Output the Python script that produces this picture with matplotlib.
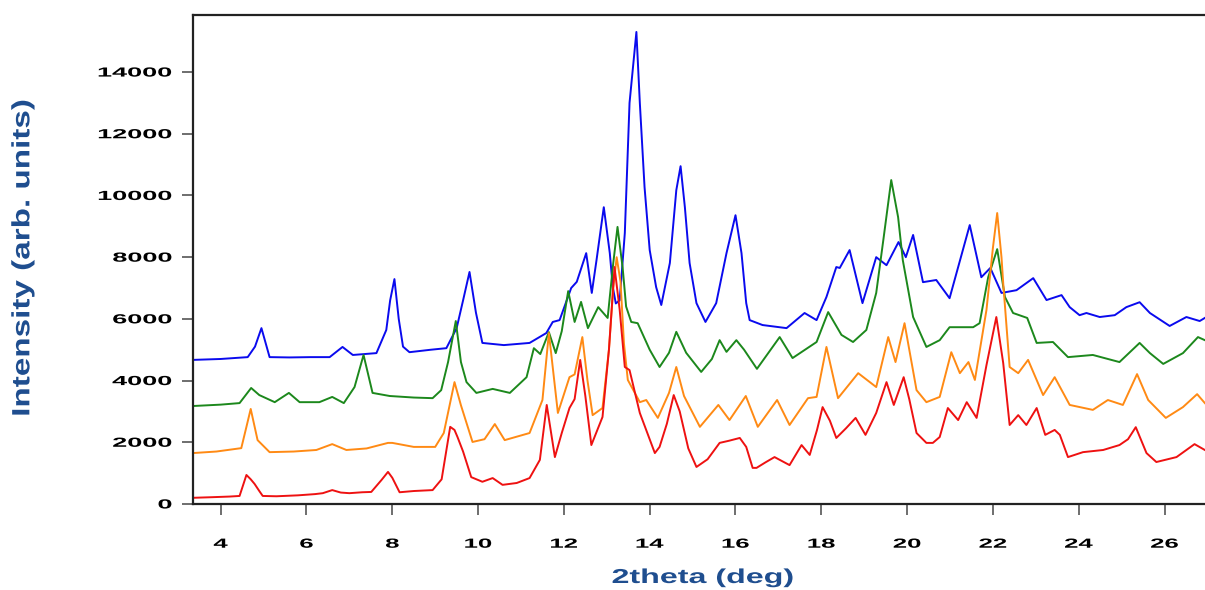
import numpy as np
import matplotlib as mpl
mpl.use('Agg')
import matplotlib.pyplot as plt
from matplotlib.patheffects import AbstractPathEffect
from matplotlib.transforms import Affine2D

mpl.rcParams['font.family'] = ['Liberation Sans', 'DejaVu Sans']
mpl.rcParams['font.weight'] = 'bold'

# powder patterns (2theta in deg, intensity in arb. units)
red_x = [3.35, 3.8, 4.2, 4.44, 4.6, 4.7, 4.79, 4.9, 4.98, 5.3, 5.8, 6.2, 6.38, 6.6, 6.8, 7.0,
         7.3, 7.51, 7.75, 7.9, 8.0, 8.17, 8.5, 8.94, 9.15, 9.35, 9.45, 9.52, 9.65, 9.84, 10.1,
         10.34, 10.57, 10.9, 11.2, 11.44, 11.6, 11.79, 11.95, 12.13, 12.25, 12.38, 12.5, 12.64,
         12.9, 13.05, 13.18, 13.3, 13.42, 13.53, 13.77, 14.12, 14.23, 14.4, 14.56, 14.7, 14.9,
         15.09, 15.35, 15.63, 15.85, 16.1, 16.25, 16.4, 16.49, 16.7, 16.91, 17.26, 17.54, 17.73,
         17.9, 18.03, 18.2, 18.35, 18.58, 18.8, 19.03, 19.28, 19.52, 19.69, 19.92, 20.05, 20.22,
         20.45, 20.6, 20.76, 20.95, 21.19, 21.39, 21.62, 21.85, 22.08, 22.24, 22.39, 22.59, 22.78,
         23.02, 23.22, 23.44, 23.56, 23.75, 24.1, 24.57, 24.95, 25.15, 25.33, 25.58, 25.81, 26.28,
         26.7, 26.94]
red_y = [200, 220, 240, 260, 940, 800, 650, 420, 260, 250, 280, 320, 350, 450, 370, 350,
         380, 390, 780, 1040, 850, 380, 420, 450, 800, 2500, 2400, 2170, 1700, 870, 720,
         840, 620, 680, 840, 1430, 3210, 1520, 2300, 3110, 3400, 4670, 3500, 1910,
         2820, 5000, 7680, 6300, 4440, 4340, 2950, 1650, 1850, 2600, 3530, 3000, 1800,
         1200, 1450, 1980, 2050, 2140, 1850, 1170, 1170, 1350, 1520, 1260, 1910, 1590,
         2400, 3140, 2700, 2140, 2460, 2790, 2240, 2950, 3950, 3210, 4110, 3400, 2300,
         1980, 1980, 2170, 3110, 2720, 3300, 2790, 4500, 6060, 4570, 2560, 2880, 2560,
         3110, 2240, 2400, 2240, 1520, 1680, 1750, 1910, 2100, 2490, 1650, 1360, 1520,
         1940, 1750]

orange_x = [3.35, 3.9, 4.48, 4.6, 4.7, 4.86, 5.14, 5.7, 6.23, 6.6, 6.93, 7.4, 7.9, 8.0, 8.5,
            9.0, 9.2, 9.45, 9.6, 9.87, 10.15, 10.39, 10.62, 11.2, 11.5, 11.65, 11.86, 12.13,
            12.25, 12.43, 12.55, 12.67, 12.9, 13.05, 13.15, 13.23, 13.32, 13.4, 13.49, 13.77,
            13.92, 14.19, 14.45, 14.62, 14.8, 15.17, 15.6, 15.86, 16.24, 16.52, 16.97, 17.26,
            17.69, 17.89, 18.12, 18.39, 18.86, 19.28, 19.56, 19.73, 19.94, 20.22, 20.45, 20.76,
            21.03, 21.23, 21.43, 21.58, 21.85, 22.0, 22.1, 22.2, 22.24, 22.39, 22.59, 22.82,
            23.17, 23.44, 23.79, 24.33, 24.68, 25.03, 25.36, 25.62, 26.03, 26.43, 26.76, 26.94]
orange_y = [1650, 1700, 1810, 2500, 3080, 2070, 1680, 1700, 1750, 1940, 1750, 1800, 1980, 1980, 1850,
            1850, 2300, 3950, 3200, 2010, 2100, 2590, 2070, 2300, 3370, 5540, 2950, 4110,
            4200, 5410, 4000, 2880, 3110, 5000, 7000, 8000, 7200, 5200, 4020, 3300,
            3370, 2790, 3600, 4440, 3500, 2500, 3210, 2720, 3500, 2500, 3370, 2560,
            3430, 3470, 5090, 3430, 4240, 3790, 5410, 4600, 5860, 3690, 3300, 3470,
            4920, 4240, 4600, 4020, 6290, 8300, 9430, 8000, 7160, 4440, 4240, 4670,
            3530, 4110, 3210, 3050, 3370, 3210, 4210, 3370, 2790, 3140, 3560, 3270]

green_x = [3.35, 4.0, 4.44, 4.71, 4.9, 5.26, 5.59, 5.84, 6.3, 6.6, 6.87, 7.12, 7.33, 7.54, 7.94,
           8.5, 8.94, 9.14, 9.3, 9.48, 9.6, 9.73, 9.96, 10.34, 10.74, 11.13, 11.3, 11.45, 11.65,
           11.81, 11.95, 12.1, 12.25, 12.4, 12.56, 12.8, 13.02, 13.15, 13.25, 13.37, 13.45, 13.57,
           13.72, 14.0, 14.23, 14.45, 14.62, 14.85, 15.2, 15.45, 15.63, 15.79, 16.02, 16.2, 16.5,
           17.03, 17.33, 17.89, 18.16, 18.47, 18.74, 19.05, 19.28, 19.45, 19.63, 19.79, 19.9,
           20.14, 20.45, 20.76, 20.99, 21.54, 21.69, 21.89, 22.1, 22.28, 22.47, 22.8, 23.02,
           23.4, 23.75, 24.33, 24.95, 25.42, 25.66, 25.97, 26.43, 26.78, 26.94]
green_y = [3175, 3220, 3270, 3760, 3530, 3300, 3600, 3300, 3300, 3470, 3270, 3790, 4830, 3600, 3500,
           3450, 3430, 3690, 4600, 5930, 4600, 3950, 3600, 3730, 3600, 4110, 5050, 4860, 5570,
           4890, 5600, 6900, 5900, 6550, 5700, 6380, 6030, 7800, 8980, 7650, 6400, 5900,
           5860, 5000, 4440, 4900, 5580, 4900, 4280, 4700, 5310, 4930, 5310, 5000, 4380,
           5410, 4730, 5250, 6220, 5480, 5250, 5640, 6840, 8600, 10500, 9300, 7900,
           6060, 5090, 5310, 5730, 5730, 5860, 7350, 8260, 6710, 6190, 6030, 5220,
           5250, 4760, 4830, 4600, 5220, 4890, 4540, 4890, 5410, 5310]

blue_x = [3.35, 4.0, 4.63, 4.8, 4.95, 5.14, 5.6, 6.1, 6.54, 6.84, 7.08, 7.63, 7.86, 7.95, 8.05,
          8.15, 8.25, 8.4, 8.9, 9.26, 9.5, 9.65, 9.8, 9.95, 10.1, 10.6, 11.2, 11.59, 11.74, 11.9,
          12.17, 12.3, 12.52, 12.65, 12.76, 12.93, 13.07, 13.14, 13.21, 13.3, 13.42, 13.53, 13.69,
          13.77, 13.88, 14.0, 14.15, 14.27, 14.47, 14.62, 14.72, 14.82, 14.93, 15.09, 15.3, 15.55,
          15.79, 16.0, 16.14, 16.25, 16.33, 16.63, 17.19, 17.61, 17.89, 18.12, 18.35, 18.43,
          18.66, 18.96, 19.28, 19.52, 19.8, 19.97, 20.14, 20.37, 20.68, 20.99, 21.46, 21.73,
          21.94, 22.2, 22.55, 22.94, 23.25, 23.6, 23.79, 24.02, 24.18, 24.49, 24.84, 25.11,
          25.42, 25.66, 26.12, 26.51, 26.82, 26.94]
blue_y = [4670, 4700, 4760, 5100, 5700, 4760, 4750, 4760, 4760, 5090, 4830, 4890, 5640, 6600, 7290,
          6000, 5100, 4920, 5000, 5050, 5700, 6600, 7520, 6200, 5220, 5150, 5220, 5540, 5900, 5960,
          7000, 7200, 8130, 6840, 7900, 9620, 8130, 7030, 6500, 6600, 8780, 13000, 15300,
          13000, 10270, 8230, 7030, 6450, 7810, 10170, 10950, 9620, 7810, 6510, 5900, 6510,
          8130, 9360, 8130, 6510, 5960, 5800, 5700, 6190, 5960, 6710, 7680, 7650,
          8230, 6510, 8000, 7740, 8490, 8000, 8720, 7190, 7260, 6670, 9040, 7350,
          7650, 6840, 6930, 7320, 6610, 6770, 6380, 6120, 6190, 6060, 6120, 6380,
          6540, 6190, 5770, 6060, 5930, 6030]

yticks = [0, 2000, 4000, 6000, 8000, 10000, 12000, 14000]
xticks = [4, 6, 8, 10, 12, 14, 16, 18, 20, 22, 24, 26]


class Stretch(AbstractPathEffect):
    # widen the glyphs along the text's own baseline, like the wide font of the original
    def __init__(self, sx, anchor='center'):
        super().__init__()
        self.sx = sx
        self.anchor = anchor

    def draw_path(self, renderer, gc, tpath, affine, rgbFace=None):
        ext = tpath.get_extents()
        if self.anchor == 'right':
            x0 = ext.x1
        else:
            x0 = 0.5 * (ext.x0 + ext.x1)
        pre = Affine2D().translate(-x0, 0).scale(self.sx, 1).translate(x0, 0)
        renderer.draw_path(gc, tpath, pre + affine, rgbFace)


fig = plt.figure(figsize=(12.05, 5.9), dpi=100)
ax = fig.add_axes([0.160, 0.1458, 0.842, 0.8288])

ax.plot(blue_x, blue_y, color='#0a0aee', lw=1.4)
ax.plot(green_x, green_y, color='#1c881c', lw=1.4)
ax.plot(orange_x, orange_y, color='#ff8a14', lw=1.4)
ax.plot(red_x, red_y, color='#ee1111', lw=1.4)

ax.set_xlim(3.35, 27.0)
ax.set_ylim(0, 15850)
ax.set_xticks(xticks)
ax.set_yticks(yticks)
ax.tick_params(axis='x', direction='out', length=8, width=1.2, color='#555555', pad=17, labelsize=9.5)
ax.tick_params(axis='y', direction='out', length=8, width=1.2, color='#555555', pad=7, labelsize=9.5)
for lab in ax.get_xticklabels():
    lab.set_fontweight('bold')
    lab.set_path_effects([Stretch(1.95, 'center')])
for lab in ax.get_yticklabels():
    lab.set_fontweight('bold')
    lab.set_path_effects([Stretch(2.05, 'right')])

for s in ['left', 'bottom', 'top']:
    ax.spines[s].set_linewidth(1.6)
    ax.spines[s].set_color('#222222')
ax.spines['right'].set_visible(False)

xl = ax.set_xlabel('2theta (deg)', color='#1f4e8f', fontsize=14.5, fontweight='bold', va='baseline')
ax.xaxis.set_label_coords(0.5027, -0.1616)
xl.set_path_effects([Stretch(1.6, 'center')])

yl = ax.set_ylabel('Intensity (arb. units)', color='#1f4e8f', fontsize=18, fontweight='bold',
                   va='center', ha='center')
ax.yaxis.set_label_coords(-0.168, 0.503)
yl.set_path_effects([Stretch(1.33, 'center')])

fig.savefig('out.png', dpi=100)
